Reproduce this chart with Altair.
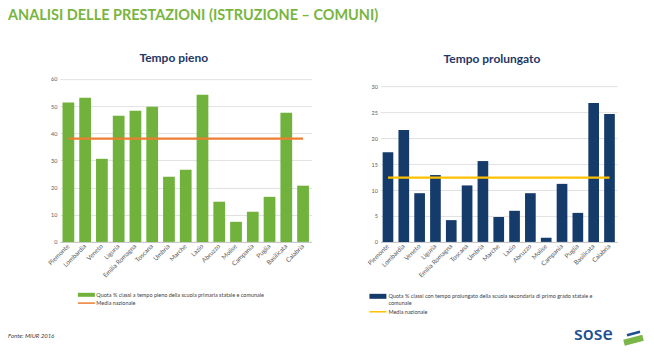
import altair as alt
import pandas as pd

regioni = ["Piemonte", "Lombardia", "Veneto", "Liguria", "Emilia Romagna", "Toscana",
           "Umbria", "Marche", "Lazio", "Abruzzo", "Molise", "Campania", "Puglia",
           "Basilicata", "Calabria"]
tempo_pieno = [51.3, 53.1, 30.6, 46.5, 48.3, 49.8, 24.0, 26.6, 54.2, 14.8, 7.4, 11.1, 16.6, 47.6, 20.7]
tempo_prolungato = [17.3, 21.6, 9.4, 12.9, 4.2, 10.9, 15.6, 4.8, 6.0, 9.4, 0.8, 11.2, 5.6, 26.8, 24.7]
media_pieno = 38.0
media_prolungato = 12.4
ticks_pieno = [0, 10, 20, 30, 40, 50, 60]
ticks_prolungato = [0, 5, 10, 15, 20, 25, 30]

FONT = "Lato"
GREEN = "#70b23c"
ORANGE = "#ed7d31"
NAVY = "#153b6b"
YELLOW = "#ffc000"
TITLE_NAVY = "#1f3864"
LABEL = "#595959"

df1 = pd.DataFrame({"regione": regioni, "valore": tempo_pieno, "media": [media_pieno] * len(regioni)})
df2 = pd.DataFrame({"regione": regioni, "valore": tempo_prolungato, "media": [media_prolungato] * len(regioni)})
one = alt.Data(values=[{"a": 1}])


def txt(text, x, y, size, color, weight="normal", style="normal", align="left", baseline="middle", font=FONT):
    return alt.Chart(one).mark_text(
        text=text, fontSize=size, font=font, color=color, fontWeight=weight,
        fontStyle=style, align=align, baseline=baseline
    ).encode(x=alt.value(x), y=alt.value(y))


def rect(x, x2, y, y2, color):
    return alt.Chart(one).mark_rect(color=color).encode(
        x=alt.value(x), x2=alt.value(x2), y=alt.value(y), y2=alt.value(y2))


def seg(x, x2, y, y2, color, w):
    return alt.Chart(one).mark_rule(color=color, strokeWidth=w).encode(
        x=alt.value(x), x2=alt.value(x2), y=alt.value(y), y2=alt.value(y2))


def xenc(pi, po):
    return alt.X("regione:N", sort=regioni,
                 scale=alt.Scale(paddingInner=pi, paddingOuter=po),
                 axis=alt.Axis(title=None, labelAngle=-45, labelAlign="right", labelBaseline="middle",
                               ticks=False, domainColor="#bfbfbf", domainWidth=0.8,
                               labelFontSize=6.4, labelColor=LABEL, labelFont=FONT,
                               labelPadding=3, grid=False, labelOverlap=False))


def yenc(field, domain_max, values):
    return alt.Y(field, scale=alt.Scale(domain=[0, domain_max], nice=False),
                 axis=alt.Axis(title=None, values=values, domain=False, ticks=False,
                               gridColor="#d9d9d9", gridWidth=0.8, labelOverlap=False,
                               labelFontSize=5.5, labelColor=LABEL, labelFont=FONT, labelPadding=3))


# Left panel
bars1 = alt.Chart(df1).mark_bar(color=GREEN).encode(
    x=xenc(0.3, 0.155), y=yenc("valore:Q", 60.3, ticks_pieno))
line1 = alt.Chart(df1).mark_line(color=ORANGE, strokeWidth=2.2).encode(
    x=xenc(0.3, 0.155), y=yenc("media:Q", 60.3, ticks_pieno))

left = alt.layer(
    bars1, line1,
    txt("ANALISI DELLE PRESTAZIONI (ISTRUZIONE – COMUNI)", -52, -69, 14.5, "#78b540", weight="bold", baseline="top"),
    txt("Tempo pieno", 114, -20, 12, TITLE_NAVY, weight="bold", align="center"),
    rect(18, 35, 215, 219, GREEN),
    txt("Quota % classi a tempo pieno della scuola primaria statale e comunale", 36.5, 217, 5.5, "#404040"),
    seg(18, 35, 225.3, 225.3, ORANGE, 1.5),
    txt("Media nazionale", 36.5, 225.3, 5.5, "#404040"),
    txt("Fonte: MIUR 2016", -52, 258, 6, "#404040", style="italic"),
).properties(width=252, height=164)

# Right panel
bars2 = alt.Chart(df2).mark_bar(color=NAVY).encode(
    x=xenc(0.325, 0.14), y=yenc("valore:Q", 31.6, ticks_prolungato))
line2 = alt.Chart(df2).mark_line(color=YELLOW, strokeWidth=2.2).encode(
    x=xenc(0.325, 0.14), y=yenc("media:Q", 31.6, ticks_prolungato))

right = alt.layer(
    bars2, line2,
    txt("Tempo prolungato", 111.7, -19, 12, TITLE_NAVY, weight="bold", align="center"),
    rect(-11, 6, 216, 221, NAVY),
    txt("Quota % classi con tempo prolungato della scuola secondaria di primo grado statale e", 8, 218.5, 5.5, "#404040"),
    txt("comunale", 8, 225, 5.5, "#404040"),
    seg(-11, 6, 234, 234, YELLOW, 1.5),
    txt("Media nazionale", 8, 234, 5.5, "#404040"),
    txt("sose", 194, 257, 18, "#1d4f91", weight=600, font="Open Sans"),
    seg(247, 260, 257.5, 254, "#1d4f91", 2.5),
    seg(244, 263, 265, 260, "#7ab648", 6),
).properties(width=237, height=164)

chart = alt.hconcat(left, right, spacing=69, bounds="flush").properties(
    padding=0, background="white"
).configure_view(stroke=None)

chart.save("out.html", embed_options={"renderer": "svg", "actions": False})
